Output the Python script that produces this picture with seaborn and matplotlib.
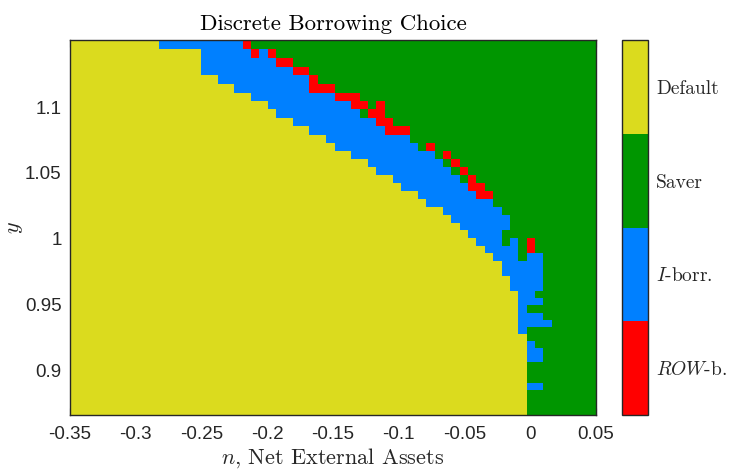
import numpy as np
import matplotlib
matplotlib.use("Agg")
import matplotlib.pyplot as plt
from matplotlib.colors import ListedColormap
import seaborn as sns

# Choice labels and colours, bottom-to-top order of the colour scale
CHOICES = ["$ROW$-b.", "$I$-borr.", "Saver", "Default"]
COLORS = ["#ff0000", "#0080ff", "#009600", "#dbdb1e"]
CODE = {"R": 0, "B": 1, "G": 2, "D": 3}

# Net-external-asset grid (columns) and income grid (rows, log-spaced, top row first)
N_START = -0.352
N_STEP = 0.4 / 63
N_COLS = 64
Y_TOP = 1.1508
LOG_Y_STEP = 0.00583
N_ROWS = 49

# For each income row (top to bottom): first column that is no longer Default,
# first column past the I-borrower run, and the cells that follow it before
# the Saver region begins.
DEFAULT_END = [11, 16, 16, 16, 18, 20, 22, 24, 25, 27,
               29, 31, 32, 34, 36, 37, 39, 40, 42, 43,
               45, 46, 47, 48, 49, 50, 51, 52, 52, 53,
               53, 54, 54, 54, 54, 54, 54, 55, 55, 55,
               55, 55, 55, 55, 55, 55, 55, 55, 55]
IBORR_END = [21, 22, 25, 27, 29, 29, 32, 34, 35, 37,
             38, 41, 42, 44, 45, 46, 47, 48, 49, 51,
             52, 53, 53, 52, 52, 54, 54, 57, 57, 57,
             57, 56, 57, 55, 57, 58, 55, 55, 56, 57,
             57, 55, 55, 55, 57, 55, 55, 55, 55]
EDGE_CELLS = ["R", "RBR", "RR", "RR", "R", "RRR", "RRR", "RRGR", "GRR", "RR",
              "RRR", "", "GR", "GR", "GR", "GR", "GR", "RR", "RR", "",
              "", "", "", "", "GBGR", "GR", "GBB"] + [""] * 22

X_TICKS = [-0.35, -0.3, -0.25, -0.2, -0.15, -0.1, -0.05, 0.0, 0.05]
X_TICK_LABELS = ["-0.35", "-0.3", "-0.25", "-0.2", "-0.15", "-0.1", "-0.05", "0", "0.05"]
Y_TICKS = [0.9, 0.95, 1.0, 1.05, 1.1]
Y_TICK_LABELS = ["0.9", "0.95", "1", "1.05", "1.1"]
X_LIM = (-0.35, 0.05)
Y_LIM = (0.8658, 1.151)

# Choice on the (income, asset) grid
choice = np.full((N_ROWS, N_COLS), CODE["G"])
for r in range(N_ROWS):
    choice[r, :IBORR_END[r]] = CODE["B"]
    choice[r, :DEFAULT_END[r]] = CODE["D"]
    for k, ch in enumerate(EDGE_CELLS[r]):
        choice[r, IBORR_END[r] + k] = CODE[ch]

# Resample the log-spaced income rows onto an evenly spaced display grid
N_FINE = 750
dy_fine = (Y_LIM[1] - Y_LIM[0]) / N_FINE
y_centres = Y_LIM[1] - (np.arange(N_FINE) + 0.5) * dy_fine
row_of = np.clip(np.floor(np.log(Y_TOP / y_centres) / LOG_Y_STEP).astype(int), 0, N_ROWS - 1)
field = choice[row_of]

sns.set_style("ticks")
plt.rcParams["font.family"] = ["Liberation Sans", "DejaVu Sans"]
plt.rcParams["mathtext.fontset"] = "cm"

W, H = 733, 471
fig = plt.figure(figsize=(W / 100, H / 100), dpi=100)
ax = fig.add_axes([70 / W, 56 / H, 526 / W, 375 / H])
cax = fig.add_axes([622 / W, 56 / H, 26 / W, 375 / H])

sns.heatmap(field, ax=ax, cbar_ax=cax, cmap=ListedColormap(COLORS),
            vmin=-0.5, vmax=3.5, xticklabels=False, yticklabels=False,
            cbar_kws={"ticks": [0, 1, 2, 3]})

axis_col = "#262626"
ax.set_xlim((X_LIM[0] - N_START) / N_STEP, (X_LIM[1] - N_START) / N_STEP)
ax.set_ylim(N_FINE, 0)
ax.set_xticks([(v - N_START) / N_STEP for v in X_TICKS])
ax.set_xticklabels(X_TICK_LABELS, rotation=0)
ax.set_yticks([(Y_LIM[1] - v) / dy_fine for v in Y_TICKS])
ax.set_yticklabels(Y_TICK_LABELS, rotation=0)
ax.tick_params(direction="in", length=5, width=0.8, top=True, right=True,
               labelsize=13.5, color=axis_col, labelcolor=axis_col)
ax.tick_params(axis="x", pad=8)
ax.tick_params(axis="y", pad=6)
for s in ax.spines.values():
    s.set_visible(True)
    s.set_linewidth(1.0)
    s.set_color(axis_col)

ax.set_xlabel("$n$, Net External Assets", fontfamily="cmr10", fontsize=16,
              color=axis_col, labelpad=2)
ax.set_ylabel("$y$", fontsize=16, color=axis_col, labelpad=0)
ax.set_title("Discrete Borrowing Choice", fontfamily="cmr10", fontsize=16.5,
             color="black", pad=7)

cb = ax.collections[0].colorbar
cb.outline.set_linewidth(1.0)
cb.outline.set_edgecolor(axis_col)
cb.set_ticks([0, 1, 2, 3])
cb.set_ticklabels(CHOICES)
cax.tick_params(direction="in", length=4, width=0.8, right=True, left=False,
                color=axis_col, labelcolor=axis_col, pad=6)
for lab in cax.get_yticklabels():
    lab.set_fontfamily("cmr10")
    lab.set_fontsize(14)

fig.savefig("out.png", dpi=100, facecolor="white")
